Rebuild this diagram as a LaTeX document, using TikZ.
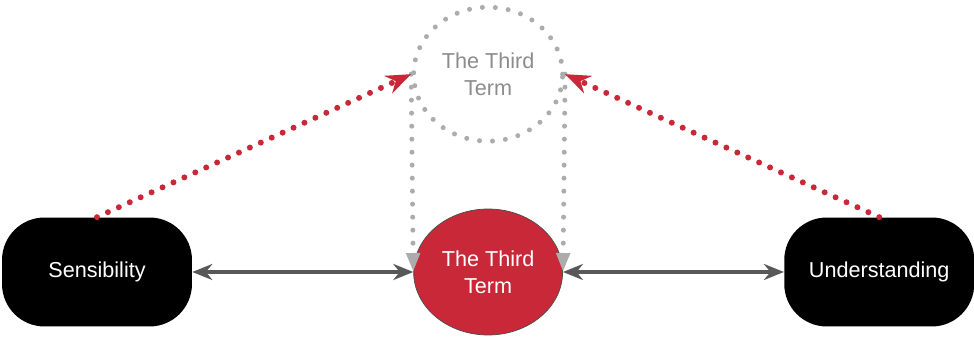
\documentclass[tikz,border=0pt]{standalone}
\usepackage{fontspec}
\setmainfont{Liberation Sans}
\usetikzlibrary{arrows.meta,positioning,shapes.geometric}
\definecolor{termred}{RGB}{200,40,56}
\definecolor{dotgray}{RGB}{172,172,172}
\definecolor{ghostgray}{RGB}{140,140,140}
\definecolor{linkgray}{RGB}{88,88,88}

\begin{document}
\begin{tikzpicture}[
  x=0.02cm, y=-0.02cm,
  every node/.style={font=\fontsize{12.3}{15.4}\selectfont, align=center},
  pole/.style={rectangle, rounded corners=0.85cm, fill=black, text=white,
    minimum width=3.8cm, minimum height=2.18cm},
  term/.style={ellipse, inner sep=0pt, minimum width=2.98cm},
  link/.style={{Stealth[length=4mm,width=3.2mm]}-{Stealth[length=4mm,width=3.2mm]},
    line width=0.8mm, linkgray},
  hint/.style={-{Stealth[length=5mm,width=3.8mm]}, termred,
    line width=1.2mm, line cap=round, dash pattern=on 0pt off 2.4mm},
  drop/.style={-{Triangle[length=3.8mm,width=2.6mm]}, dotgray,
    line width=1mm, line cap=round, dash pattern=on 0pt off 2.6mm},
]
  \useasboundingbox (0,0) rectangle (974,340);

  \node[pole] (sens) at (97,272) {Sensibility};
  \node[term, minimum height=2.52cm, fill=termred, draw=gray!60!black,
    text=white, right=4.42cm of sens] (term) {The Third\\Term};
  \node[pole, right=4.42cm of term] (und) {Understanding};
  \node[term, minimum height=2.68cm, text=ghostgray, draw=dotgray,
    line width=1mm, line cap=round, dash pattern=on 0pt off 2.6mm,
    above=1.3cm of term] (ghost) {The Third\\Term};

  % dropped down from the ghost term
  \draw[drop] (ghost.west) -- (term.west);
  \draw[drop] (ghost.east) -- (term.east);

  % both sides reach up
  \draw[hint] (sens.north) -- (ghost.west);
  \draw[hint] (und.north) -- (ghost.east);

  \draw[link] (sens.east) -- (term.west);
  \draw[link] (term.east) -- (und.west);
\end{tikzpicture}
\end{document}
